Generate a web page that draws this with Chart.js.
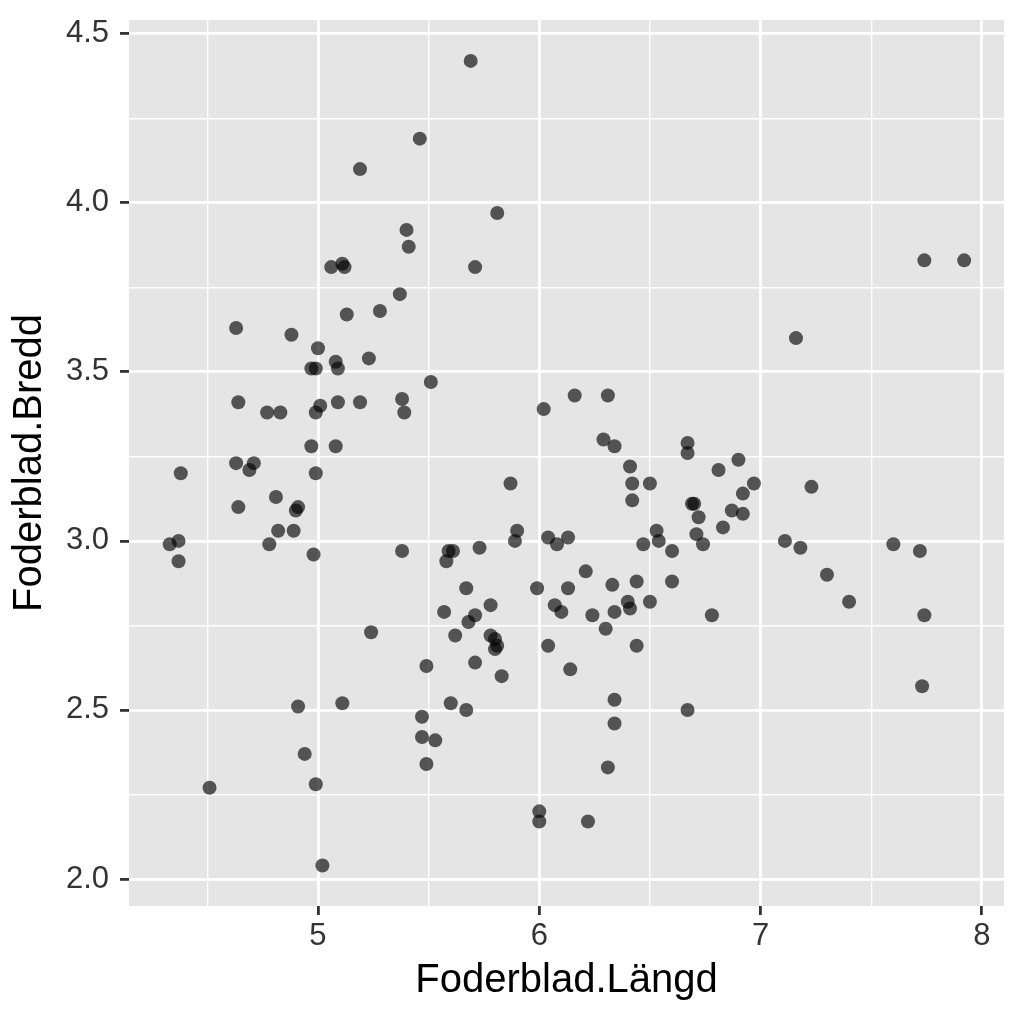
<!DOCTYPE html>
<html>
<head>
<meta charset="utf-8">
<script src="https://cdn.jsdelivr.net/npm/chart.js@4.4.0/dist/chart.umd.min.js"></script>
<style>
  html, body { margin: 0; padding: 0; background: #ffffff; }
  #wrap { width: 1024px; height: 1024px; }
</style>
</head>
<body>
<div id="wrap"><canvas id="c" width="1024" height="1024"></canvas></div>
<script>
// ---- data ----
const sepalLength = [4.33,4.37,4.37,4.38,4.51,4.63,4.64,4.63,4.64,4.69,4.71,4.77,4.78,4.83,4.81,4.82,4.88,4.89,4.90,4.91,
  4.91,4.94,4.97,4.99,4.97,4.99,4.98,4.99,4.99,5.00,5.01,5.02,5.06,5.08,5.08,5.09,5.09,5.11,5.12,5.13,
  5.11,5.19,5.19,5.23,5.24,5.28,5.37,5.38,5.39,5.40,5.41,5.38,5.46,5.51,5.47,5.47,5.49,5.49,5.53,5.57,
  5.58,5.59,5.61,5.62,5.60,5.67,5.67,5.68,5.71,5.69,5.71,5.71,5.73,5.78,5.78,5.80,5.81,5.80,5.83,5.81,
  5.87,5.89,5.90,5.99,6.00,6.00,6.02,6.04,6.04,6.08,6.07,6.10,6.13,6.13,6.14,6.16,6.21,6.22,6.24,6.29,
  6.30,6.31,6.31,6.33,6.34,6.34,6.34,6.34,6.41,6.40,6.41,6.42,6.42,6.44,6.44,6.47,6.50,6.50,6.53,6.54,
  6.60,6.60,6.67,6.67,6.67,6.69,6.70,6.72,6.71,6.74,6.78,6.81,6.83,6.87,6.90,6.92,6.92,6.97,7.11,7.16,
  7.18,7.23,7.30,7.40,7.60,7.72,7.74,7.74,7.73,7.92];
const sepalWidth = [2.99,3.00,2.94,3.20,2.27,3.63,3.41,3.23,3.10,3.21,3.23,3.38,2.99,3.38,3.13,3.03,3.61,3.03,3.09,3.10,
  2.51,2.37,3.51,3.51,3.28,3.20,2.96,3.38,2.28,3.57,3.40,2.04,3.81,3.53,3.28,3.51,3.41,3.82,3.81,3.67,
  2.52,3.41,4.10,3.54,2.73,3.68,3.73,3.42,3.38,3.92,3.87,2.97,4.19,3.47,2.48,2.42,2.63,2.34,2.41,2.79,
  2.94,2.97,2.97,2.72,2.52,2.50,2.86,2.76,2.78,4.42,3.81,2.64,2.98,2.81,2.72,2.71,2.69,2.68,2.60,3.97,
  3.17,3.00,3.03,2.86,2.20,2.17,3.39,3.01,2.69,2.99,2.81,2.79,3.01,2.86,2.62,3.43,2.91,2.17,2.78,3.30,
  2.74,3.43,2.33,2.87,2.79,2.53,2.46,3.28,3.22,2.82,2.80,3.17,3.12,2.88,2.69,2.99,3.17,2.82,3.03,3.00,
  2.97,2.88,3.29,3.26,2.50,3.11,3.11,3.07,3.02,2.99,2.78,3.21,3.04,3.09,3.24,3.14,3.08,3.17,3.00,3.60,
  2.98,3.16,2.90,2.82,2.99,2.97,3.83,2.78,2.57,3.83];

const xMajorTicks = [5, 6, 7, 8];
const xMinorTicks = [4.5, 5.5, 6.5, 7.5];
const yMajorTicks = [2.0, 2.5, 3.0, 3.5, 4.0, 4.5];
const yMinorTicks = [2.25, 2.75, 3.25, 3.75, 4.25];
const xTitle = 'Foderblad.Längd';
const yTitle = 'Foderblad.Bredd';

const points = sepalLength.map((x, i) => ({ x: x, y: sepalWidth[i] }));

const isMajor = (list, v) => list.some(m => Math.abs(m - v) < 1e-9);

const panelBg = {
  id: 'panelBg',
  beforeDraw(chart) {
    const { ctx, chartArea: a } = chart;
    ctx.save();
    ctx.fillStyle = '#e5e5e5';
    ctx.fillRect(a.left, a.top, a.right - a.left, a.bottom - a.top);
    ctx.restore();
  }
};

function zeroPad(scale) {
  scale.paddingTop = 0; scale.paddingBottom = 0;
  scale.paddingLeft = 0; scale.paddingRight = 0;
}

const FONT = '"Liberation Sans", Arial, sans-serif';

new Chart(document.getElementById('c'), {
  type: 'scatter',
  data: {
    datasets: [{
      data: points,
      pointRadius: 7,
      pointHoverRadius: 7,
      pointBorderWidth: 0,
      backgroundColor: 'rgba(0,0,0,0.64)',
      borderColor: 'rgba(0,0,0,0)'
    }]
  },
  options: {
    responsive: false,
    animation: false,
    devicePixelRatio: 1,
    layout: { padding: { left: 0, right: 20, top: 20, bottom: 0 } },
    plugins: { legend: { display: false }, tooltip: { enabled: false } },
    scales: {
      x: {
        type: 'linear',
        min: 4.146, max: 8.1,
        afterBuildTicks(scale) {
          scale.ticks = [...xMinorTicks, ...xMajorTicks].sort((a, b) => a - b).map(v => ({ value: v }));
        },
        afterFit(scale) { scale.height = 118; zeroPad(scale); },
        border: { display: false },
        grid: {
          color: '#ffffff',
          lineWidth: c => isMajor(xMajorTicks, c.tick.value) ? 2.8 : 1.4,
          drawTicks: true,
          tickLength: 9,
          tickWidth: 2.8,
          tickColor: c => isMajor(xMajorTicks, c.tick.value) ? '#333333' : 'rgba(0,0,0,0)'
        },
        ticks: {
          padding: 3,
          color: '#333333',
          font: { family: FONT, size: 31 },
          maxRotation: 0, autoSkip: false,
          callback: v => isMajor(xMajorTicks, v) ? String(v) : ''
        },
        title: {
          display: true, text: xTitle, color: '#000000',
          font: { family: FONT, size: 40, lineHeight: 1 },
          padding: { top: 0, bottom: 23 }
        }
      },
      y: {
        type: 'linear',
        min: 1.92, max: 4.541,
        afterBuildTicks(scale) {
          scale.ticks = [...yMinorTicks, ...yMajorTicks].sort((a, b) => a - b).map(v => ({ value: v }));
        },
        afterFit(scale) { scale.width = 129; zeroPad(scale); },
        border: { display: false },
        grid: {
          color: '#ffffff',
          lineWidth: c => isMajor(yMajorTicks, c.tick.value) ? 2.8 : 1.4,
          drawTicks: true,
          tickLength: 9,
          tickWidth: 2.8,
          tickColor: c => isMajor(yMajorTicks, c.tick.value) ? '#333333' : 'rgba(0,0,0,0)'
        },
        ticks: {
          padding: 11,
          color: '#333333',
          font: { family: FONT, size: 31 },
          autoSkip: false,
          callback: v => isMajor(yMajorTicks, v) ? Number(v).toFixed(1) : ''
        },
        title: {
          display: true, text: yTitle, color: '#000000',
          font: { family: FONT, size: 40, lineHeight: 1 },
          padding: { top: 10, bottom: 0 }
        }
      }
    }
  },
  plugins: [panelBg]
});
</script>
</body>
</html>
